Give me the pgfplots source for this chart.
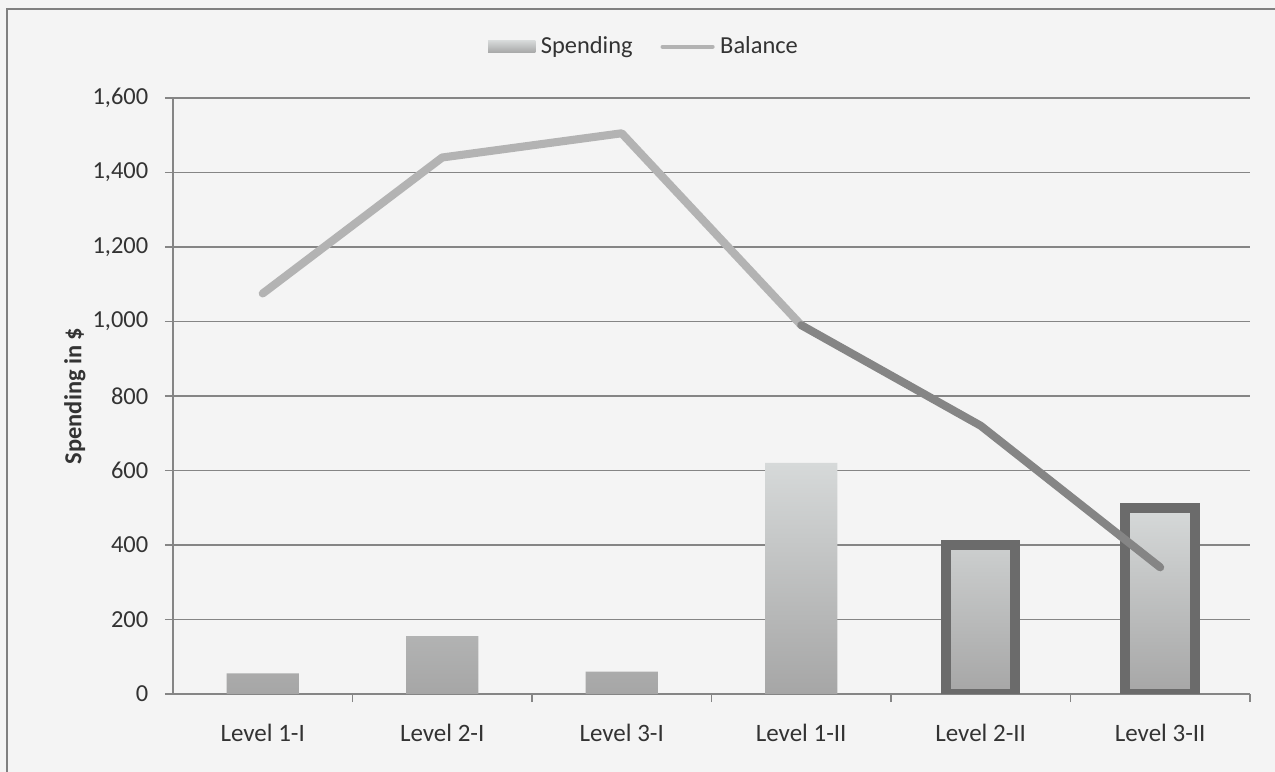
\documentclass[border=0pt]{standalone}
\usepackage{pgfplots}
\pgfplotsset{compat=1.18}
\usepackage{fontspec}
\setmainfont{Carlito}
\definecolor{gridc}{HTML}{858585}
\definecolor{barTop}{HTML}{D6D9D9}
\definecolor{barBot}{HTML}{A6A6A6}
\definecolor{barEdge}{HTML}{6B6B6B}
\definecolor{lineA}{HTML}{B3B3B3}
\definecolor{lineB}{HTML}{858585}
\definecolor{txt}{HTML}{333333}
\definecolor{bgc}{HTML}{F4F4F4}
\begin{document}
\begin{tikzpicture}
\fill[bgc] (-62.28pt,-28.08pt) rectangle (396.72pt,249.84pt);
\useasboundingbox (-62.28pt,-28.08pt) rectangle (396.72pt,249.84pt);
\draw[gray, line width=0.7pt] (-59.76pt,-28.08pt) -- (-59.76pt,246.6pt) -- (396.72pt,246.6pt);
\begin{axis}[
  scale only axis,
  width=387.7pt, height=214.6pt,
  xmin=-0.5, xmax=5.5, ymin=0, ymax=1600,
  axis x line*=bottom, axis y line*=left,
  axis line style={gridc, line width=0.6pt, -},
  ytick={0,200,...,1600},
  ymajorgrids, grid style={gridc, line width=0.6pt},
  xtick={0,1,2,3,4,5},
  xticklabels={Level 1-I,Level 2-I,Level 3-I,Level 1-II,Level 2-II,Level 3-II},
  minor xtick={0.5,1.5,2.5,3.5,4.5,5.5},
  tick align=outside,
  major tick length=2.9pt, minor tick length=2.9pt,
  major x tick style={draw=none},
  minor x tick style={gridc, line width=0.6pt},
  y tick style={gridc, line width=0.6pt},
  yticklabel style={/pgf/number format/1000 sep={,}, /pgf/number format/assume math mode=true, font=\fontsize{8.8}{10}\selectfont, text=txt, xshift=-2.5pt},
  xticklabel style={font=\fontsize{9}{10}\selectfont, text=txt, yshift=-4.5pt},
  ylabel={\textbf{Spending in \$}},
  ylabel style={at={(axis description cs:-0.091,0.5)}, anchor=center, font=\fontsize{8.8}{10}\selectfont, text=txt},
  legend columns=-1,
  legend style={at={(axis description cs:0.439,1)}, anchor=center, yshift=18.4pt, draw=none, fill=none,
    font=\fontsize{8.8}{10}\selectfont, text=txt,
    /tikz/every even column/.append style={column sep=8pt}},
]
\addplot[ybar, bar width=26pt, bar shift=0pt, draw=none, top color=barTop, bottom color=barBot,
  legend image code/.code={\fill[top color=barTop, bottom color=barBot, draw=none] (0pt,-2.2pt) rectangle (17pt,2.2pt);}]
  coordinates {(0,55) (1,155) (2,60) (3,620)};
\addlegendentry{Spending}
\addplot[ybar, bar width=25pt, bar shift=0pt, draw=barEdge, line width=3.6pt, top color=barTop, bottom color=barBot, forget plot]
  coordinates {(4,400) (5,500)};
\addplot[lineA, line width=2.9pt, line join=round, line cap=round, mark=none,
  legend image code/.code={\draw[lineA, line width=1.5pt, line cap=round] (0pt,0pt) -- (18pt,0pt);}]
  coordinates {(0,1075) (1,1440) (2,1505) (3,990)};
\addlegendentry{Balance}
\addplot[lineB, line width=2.9pt, line join=round, line cap=round, mark=none, forget plot]
  coordinates {(3,990) (4,720) (5,340)};
\end{axis}
\end{tikzpicture}
\end{document}
